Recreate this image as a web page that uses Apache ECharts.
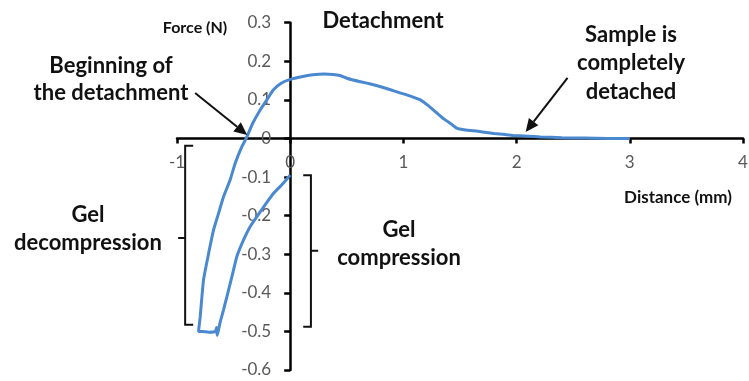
<!DOCTYPE html>
<html>
<head>
<meta charset="utf-8">
<script src="https://cdn.jsdelivr.net/npm/echarts@6/dist/echarts.min.js"></script>
<style>
  html, body { margin: 0; padding: 0; background: #ffffff; }
  #chart { width: 749px; height: 381px; }
</style>
</head>
<body>
<div id="chart"></div>
<script>
// Force–distance trace of one probe cycle: compression, decompression, detachment
const distance = [
  0.00, -0.05, -0.10, -0.147, -0.20, -0.265, -0.353, -0.412, -0.471, -0.515, -0.559, -0.589, -0.618, -0.633,
  -0.645, -0.65, -0.66, -0.72, -0.78, -0.81,
  -0.795, -0.766, -0.72, -0.677, -0.633, -0.589, -0.53, -0.486, -0.427, -0.389, -0.33, -0.265, -0.20, -0.148,
  -0.08, 0.00, 0.10, 0.20, 0.30, 0.38, 0.44, 0.50, 0.62, 0.70, 0.80, 0.90, 1.03, 1.15, 1.22, 1.30,
  1.36, 1.42, 1.47, 1.55, 1.62, 1.70, 1.80, 1.90, 1.97, 2.10, 2.21, 2.40, 2.60, 2.80, 3.00
];
const force = [
  -0.095, -0.112, -0.128, -0.142, -0.163, -0.190, -0.228, -0.263, -0.306, -0.358, -0.410, -0.444, -0.475, -0.496,
  -0.510, -0.490, -0.500, -0.502, -0.500, -0.500,
  -0.462, -0.367, -0.297, -0.237, -0.194, -0.151, -0.107, -0.064, -0.021, 0.000, 0.040, 0.074, 0.103, 0.126,
  0.143, 0.153, 0.160, 0.165, 0.167, 0.166, 0.163, 0.156, 0.147, 0.142, 0.134, 0.125, 0.113, 0.100, 0.085, 0.065,
  0.050, 0.038, 0.027, 0.022, 0.020, 0.017, 0.013, 0.010, 0.008, 0.006, 0.004, 0.002, 0.001, 0.000, 0.000
];

// Axis ranges and tick steps
const xRange = [-1, 4];
const xStep = 1;
const yRange = [-0.6, 0.3];
const yStep = 0.1;

const tickFont = 'Lato, "Open Sans", sans-serif';
const textFont = 'Lato, "Open Sans", sans-serif';
const ink = '#111111';
const lineBlue = '#4a88cf';

const chart = echarts.init(document.getElementById('chart'), null, { renderer: 'canvas' });

const points = distance.map((d, i) => [d, force[i]]);

const axisStyle = { color: '#000', width: 2.5 };

chart.setOption({
  animation: false,
  backgroundColor: '#ffffff',
  grid: { left: 177, right: 6, top: 22.7, bottom: 11, containLabel: false, outerBoundsMode: 'none' },
  xAxis: {
    type: 'value', min: xRange[0], max: xRange[1], interval: xStep,
    axisLine: { show: true, onZero: false, lineStyle: axisStyle },
    axisTick: { show: true, inside: false, length: 5, lineStyle: axisStyle },
    axisLabel: { margin: 16, color: '#595959', fontSize: 17, fontFamily: tickFont },
    splitLine: { show: false }
  },
  yAxis: {
    type: 'value', min: yRange[0], max: yRange[1], interval: yStep,
    axisLine: { show: true, onZero: false, lineStyle: axisStyle },
    axisTick: { show: true, inside: false, length: 6, lineStyle: axisStyle },
    axisLabel: {
      margin: 19, color: '#595959', fontSize: 17, fontFamily: tickFont,
      formatter: v => String(Math.round(v * 10) / 10)
    },
    splitLine: { show: false }
  },
  series: [{
    type: 'line',
    data: points,
    showSymbol: false,
    smooth: 0.15,
    z: 5,
    lineStyle: { color: lineBlue, width: 3 }
  }]
});

const px = p => chart.convertToPixel({ gridIndex: 0 }, p);

// Move both axes (line, ticks and labels) so they cross at the origin;
// repeated so the offsets settle against the final grid layout
for (let pass = 0; pass < 3; pass++) {
  const origin = px([0, 0]);
  const corner = px([xRange[0], yRange[0]]);
  chart.setOption({
    xAxis: { offset: origin[1] - corner[1] },
    yAxis: { offset: corner[0] - origin[0] }
  });
}

// Annotation geometry in data coordinates
const arrows = [
  { from: [-0.84, 0.118], to: [-0.38, 0.009] },
  { from: [2.45, 0.157], to: [2.08, 0.017] }
];
const brackets = [
  // left bracket: opening to the right, tick to the left
  [[-0.857, -0.019], [-0.928, -0.019], [-0.928, -0.483], [-0.857, -0.483]],
  [[-0.928, -0.258], [-0.99, -0.258]],
  // right bracket: opening to the left, tick to the right
  [[0.115, -0.095], [0.183, -0.095], [0.183, -0.488], [0.115, -0.488]],
  [[0.183, -0.291], [0.247, -0.291]]
];

const graphics = [];

brackets.forEach(seg => {
  graphics.push({
    type: 'polyline', z: 10,
    shape: { points: seg.map(px) },
    style: { stroke: ink, lineWidth: 2, fill: null }
  });
});

arrows.forEach(a => {
  const p0 = px(a.from), p1 = px(a.to);
  const dx = p1[0] - p0[0], dy = p1[1] - p0[1];
  const len = Math.hypot(dx, dy);
  const ux = dx / len, uy = dy / len;
  const headLen = 13, headHalf = 6;
  const bx = p1[0] - ux * headLen, by = p1[1] - uy * headLen;
  graphics.push({
    type: 'line', z: 10,
    shape: { x1: p0[0], y1: p0[1], x2: bx, y2: by },
    style: { stroke: ink, lineWidth: 2 }
  });
  graphics.push({
    type: 'polygon', z: 10,
    shape: { points: [p1, [bx - uy * headHalf, by + ux * headHalf], [bx + uy * headHalf, by - ux * headHalf]] },
    style: { fill: ink }
  });
});

// Text labels
const labels = [
  { text: 'Detachment', x: 383, y: 21, size: 22, lh: 26 },
  { text: 'Force (N)', x: 195, y: 28, size: 16, lh: 20 },
  { text: 'Distance (mm)', x: 678, y: 198, size: 17, lh: 20 },
  { text: 'Beginning of\nthe detachment', x: 111, y: 79, size: 22, lh: 27 },
  { text: 'Gel\ndecompression', x: 88, y: 229, size: 22, lh: 28 },
  { text: 'Gel\ncompression', x: 399, y: 244, size: 22, lh: 28 },
  { text: 'Sample is\ncompletely\ndetached', x: 631, y: 63, size: 22, lh: 28.5 }
];
labels.forEach(l => {
  graphics.push({
    type: 'text', z: 20, x: l.x, y: l.y,
    style: {
      text: l.text, fill: ink, font: 'bold ' + l.size + 'px ' + textFont,
      lineHeight: l.lh, align: 'center', verticalAlign: 'middle'
    }
  });
});

chart.setOption({ graphic: graphics });
</script>
</body>
</html>
